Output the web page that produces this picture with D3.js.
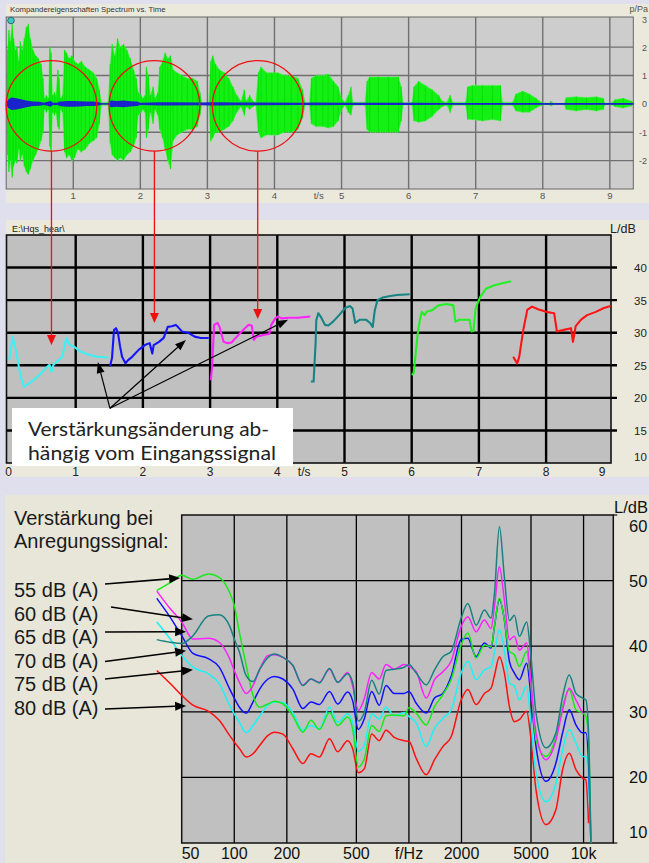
<!DOCTYPE html>
<html>
<head>
<meta charset="utf-8">
<script src="https://cdn.jsdelivr.net/npm/d3@7"></script>
<style>
  body { margin: 0; background: #dfdfee; }
  svg { display: block; }
</style>
</head>
<body>
<script>

// ---- top panel: waveform envelope [t/s, upper p/Pa, lower p/Pa]
const waveform = [
  [0.00, 0, 0], [0.02, 1.9, -1.8], [0.04, 2.6, -2.4], [0.06, 2.2, -2.0], [0.09, 2.8, -2.6],
  [0.11, 2.3, -2.2], [0.14, 1.9, -2.0], [0.16, 2.0, -2.1], [0.19, 1.5, -1.6], [0.21, 2.2, -2.0],
  [0.24, 1.9, -1.8], [0.27, 2.3, -2.2], [0.30, 2.7, -2.4], [0.33, 2.8, -2.5], [0.36, 2.3, -2.3],
  [0.40, 1.9, -2.0], [0.44, 1.7, -1.8], [0.48, 1.6, -1.6], [0.52, 1.4, -1.3], [0.55, 0.9, -1.0],
  [0.57, 0.2, -0.2], [0.60, 0.3, -0.3], [0.63, 0.2, -0.2], [0.65, 2.0, -1.5], [0.67, 1.8, -1.7],
  [0.69, 0.3, -0.3], [0.72, 0.4, -0.4], [0.74, 0.3, -0.3], [0.77, 1.2, -0.8], [0.79, 0.9, -0.9],
  [0.81, 0.2, -0.2], [0.84, 0.3, -0.3], [0.87, 1.9, -1.7], [0.90, 1.8, -1.9], [0.94, 1.6, -1.8],
  [0.98, 1.7, -2.0], [1.02, 1.5, -1.9], [1.07, 1.4, -1.6], [1.12, 1.5, -1.7], [1.18, 1.3, -1.6],
  [1.24, 1.2, -1.4], [1.30, 1.1, -1.3], [1.35, 0.9, -1.2], [1.39, 0.5, -0.7], [1.42, 0.05, -0.05],
  [1.52, 0.05, -0.05], [1.55, 1.4, -1.4], [1.58, 2.1, -1.8], [1.62, 1.7, -1.9], [1.66, 2.3, -2.0],
  [1.70, 2.0, -1.9], [1.75, 2.1, -2.0], [1.80, 1.9, -1.8], [1.85, 1.6, -1.7], [1.90, 1.2, -1.5],
  [1.94, 0.9, -1.2], [1.97, 0.4, -0.4], [2.01, 0.3, -0.3], [2.04, 0.2, -0.2], [2.07, 0.3, -0.3],
  [2.09, 1.3, -1.2], [2.12, 1.0, -0.9], [2.15, 0.3, -0.3], [2.19, 0.6, -0.7], [2.22, 0.2, -0.2],
  [2.26, 0.4, -0.4], [2.29, 1.3, -0.9], [2.33, 1.5, -1.2], [2.37, 1.8, -1.6], [2.41, 1.6, -2.0],
  [2.45, 1.7, -2.3], [2.49, 1.2, -1.3], [2.55, 1.1, -1.1], [2.62, 1.0, -1.0], [2.70, 0.9, -0.9],
  [2.78, 0.9, -0.9], [2.85, 0.8, -0.8], [2.89, 0.4, -0.4], [2.92, 0.02, -0.02], [3.02, 0.02, -0.02],
  [3.05, 1.5, -1.3], [3.08, 1.7, -1.2], [3.12, 1.4, -1.0], [3.18, 1.2, -1.0], [3.25, 1.1, -0.9],
  [3.32, 0.9, -0.8], [3.38, 0.6, -0.6], [3.44, 0.3, -0.3], [3.50, 0.1, -0.1], [3.55, 0.5, -0.4],
  [3.58, 0.1, -0.1], [3.63, 0.3, -0.2], [3.68, 0.1, -0.1], [3.72, 0.05, -0.05], [3.76, 1.1, -1.0],
  [3.80, 1.3, -1.2], [3.88, 1.1, -1.1], [3.96, 1.1, -1.1], [4.05, 1.1, -1.1], [4.15, 1.0, -1.0],
  [4.25, 1.0, -1.0], [4.35, 0.9, -0.9], [4.42, 0.5, -0.5], [4.46, 0.02, -0.02], [4.52, 0.02, -0.02],
  [4.55, 0.9, -0.7], [4.62, 1.0, -0.8], [4.72, 1.0, -0.8], [4.80, 1.05, -0.85], [4.88, 0.8, -0.8],
  [4.95, 0.6, -0.6], [5.00, 0.2, -0.2], [5.05, 0.05, -0.05], [5.10, 0.3, -0.3], [5.14, 0.6, -0.4],
  [5.17, 0.05, -0.05], [5.35, 0.05, -0.05], [5.38, 0.8, -0.9], [5.42, 0.95, -1.0], [5.55, 0.95, -1.0],
  [5.70, 0.95, -1.0], [5.85, 0.95, -1.0], [5.89, 0.6, -0.6], [5.92, 0.02, -0.02], [6.05, 0.05, -0.05],
  [6.08, 0.6, -0.6], [6.15, 0.8, -0.65], [6.25, 0.65, -0.6], [6.35, 0.5, -0.45], [6.45, 0.3, -0.2],
  [6.50, 0.1, -0.1], [6.57, 0.05, -0.05], [6.62, 0.3, -0.3], [6.66, 0.05, -0.05], [6.85, 0.05, -0.05],
  [6.88, 0.6, -0.55], [6.95, 0.65, -0.55], [7.10, 0.65, -0.6], [7.25, 0.65, -0.55], [7.37, 0.65, -0.6],
  [7.40, 0.05, -0.05], [7.55, 0.05, -0.05], [7.60, 0.35, -0.25], [7.70, 0.45, -0.3], [7.80, 0.35, -0.3],
  [7.90, 0.2, -0.15], [7.98, 0.05, -0.05], [8.10, 0.02, -0.02], [8.12, 0.1, -0.08], [8.16, 0.02, -0.02],
  [8.32, 0.02, -0.02], [8.35, 0.22, -0.2], [8.50, 0.25, -0.25], [8.65, 0.22, -0.2], [8.80, 0.25, -0.25],
  [8.90, 0.2, -0.2], [8.93, 0.02, -0.02], [9.02, 0.02, -0.02], [9.08, 0.15, -0.1], [9.20, 0.2, -0.15],
  [9.32, 0.1, -0.08], [9.36, 0.02, -0.02]
];
// compressed (blue) signal, half width in Pa
const compT = [0, 0.03, 0.08, 0.15, 0.22, 0.3, 0.4, 0.5, 0.56, 0.62, 0.66, 0.7, 0.76, 0.8, 0.86, 0.92, 1.0, 1.1, 1.2, 1.3,
               1.38, 1.42, 1.52, 1.56, 1.65, 1.75, 1.85, 1.95, 2.0, 2.3, 2.5, 2.9, 3.05, 3.2, 3.4, 3.8, 4.4, 4.6, 5.0, 5.4,
               5.9, 6.1, 6.5, 9.36];
const compA = [0.02, 0.15, 0.22, 0.2, 0.16, 0.12, 0.08, 0.07, 0.04, 0.07, 0.1, 0.04, 0.04, 0.08, 0.09, 0.1, 0.1, 0.09, 0.08, 0.08,
               0.06, 0.02, 0.02, 0.12, 0.1, 0.12, 0.09, 0.08, 0.04, 0.06, 0.06, 0.05, 0.06, 0.06, 0.05, 0.05, 0.04, 0.05, 0.04, 0.04,
               0.04, 0.04, 0.03, 0.03];
const pTicks = [3, 2, 1, 0, -1, -2];
const tTicks = [1, 2, 3, 4, 5, 6, 7, 8, 9];

// ---- middle panel: gain over time, one segment per colour
const cyanT  = [0.01, 0.06, 0.12, 0.18, 0.23, 0.27, 0.37, 0.49, 0.58, 0.61, 0.64, 0.67, 0.80, 0.86, 0.91, 0.97, 1.07, 1.20, 1.32, 1.49];
const cyanDb = [25.8, 29.4, 26.8, 23.3, 21.7, 22.0, 22.7, 23.8, 24.8, 25.1, 24.0, 25.1, 26.3, 29.2, 28.1, 27.9, 27.1, 26.6, 26.3, 26.2];
const blueT  = [1.51, 1.54, 1.57, 1.60, 1.63, 1.66, 1.69, 1.74, 1.78, 1.84, 1.94, 2.03, 2.10, 2.14, 2.16, 2.24, 2.31, 2.37, 2.43, 2.49, 2.52, 2.58, 2.67, 2.77, 2.86, 2.98];
const blueDb = [24.8, 26.1, 30.4, 30.7, 29.9, 27.9, 26.3, 25.3, 25.8, 26.3, 27.4, 28.1, 28.4, 26.8, 28.1, 28.6, 29.2, 30.9, 31.0, 31.2, 30.9, 30.2, 30.0, 29.4, 29.2, 29.2];
const magT   = [3.01, 3.03, 3.06, 3.11, 3.14, 3.20, 3.26, 3.32, 3.38, 3.47, 3.57, 3.62, 3.65, 3.69, 3.81, 3.88, 3.91, 3.97, 4.01, 4.06, 4.18, 4.31, 4.49];
const magDb  = [22.7, 24.8, 31.2, 31.5, 30.9, 28.6, 28.4, 28.5, 29.2, 30.2, 31.2, 31.1, 28.9, 29.4, 29.7, 29.8, 31.2, 32.2, 32.5, 32.2, 32.3, 32.3, 32.5];
const tealT  = [4.50, 4.54, 4.57, 4.58, 4.61, 4.65, 4.71, 4.76, 4.83, 4.92, 5.01, 5.08, 5.12, 5.16, 5.23, 5.32, 5.38, 5.42, 5.45, 5.49, 5.57, 5.66, 5.78, 5.97];
const tealDb = [22.5, 22.5, 28.4, 31.9, 33.0, 32.4, 31.2, 31.1, 31.7, 32.7, 33.8, 34.1, 33.7, 31.5, 32.0, 32.0, 31.5, 30.9, 33.4, 35.0, 35.4, 35.6, 35.8, 35.9];
const greenT  = [6.00, 6.03, 6.09, 6.12, 6.15, 6.19, 6.22, 6.31, 6.40, 6.52, 6.62, 6.65, 6.71, 6.86, 6.89, 6.92, 6.95, 7.02, 7.11, 7.23, 7.35, 7.48];
const greenDb = [23.5, 23.8, 29.9, 31.9, 33.2, 32.7, 33.2, 33.5, 34.2, 34.4, 34.2, 31.7, 32.0, 32.0, 30.2, 30.3, 33.7, 35.5, 36.8, 37.3, 37.6, 37.9];
const redT   = [7.51, 7.54, 7.57, 7.60, 7.66, 7.72, 7.79, 7.88, 8.00, 8.12, 8.16, 8.25, 8.37, 8.40, 8.44, 8.52, 8.61, 8.74, 8.86, 8.96];
const redDb  = [26.3, 25.8, 25.3, 26.3, 30.4, 33.5, 34.0, 33.6, 33.2, 33.0, 30.2, 30.4, 30.7, 28.6, 31.0, 32.0, 32.7, 33.2, 33.8, 34.1];
const gainTicks = [10, 15, 20, 25, 30, 35, 40];
const gainTimeTicks = [0, 1, 2, 3, 4, 5, 6, 7, 8, 9];

// ---- bottom panel: gain vs frequency for six input levels
const freqs = [36, 43, 50, 58, 71, 82, 94, 100, 107, 117, 128, 140, 156, 170, 190,
               216, 247, 275, 307, 351, 391, 446, 476, 513, 555, 612, 676, 739, 824, 940,
               1000, 1101, 1256, 1402, 1564, 1745, 1991, 2174, 2425, 2706, 2954, 3087, 3297, 3521, 3761,
               4017, 4290, 4724, 4979, 5342, 6092, 6948, 7586, 8282, 9042, 9870, 10312, 10680, 11014];
const gain55 = [48.5, 49.7, 50.8, 50.2, 51.0, 50.5, 48.2, 46.2, 42.1, 37.1, 32.5, 30.7, 31.2, 31.6, 31.2,
                29.4, 26.9, 28.7, 27.3, 29.9, 27.9, 29.2, 27.4, 21.6, 22.8, 27.9, 27.0, 29.4, 29.5, 29.4,
                30.6, 29.8, 28.0, 30.8, 32.6, 34.9, 40.2, 42.0, 38.2, 40.2, 39.9, 43.0, 47.3, 44.0, 39.2,
                38.7, 36.9, 39.2, 34.4, 25.7, 23.2, 26.2, 30.8, 33.4, 30.3, 29.8, 29.3, 25.7, 10];
const gain60 = [41.0, 40.6, 40.4, 41.6, 44.6, 44.8, 43.1, 41.1, 39.1, 35.5, 34.6, 36.5, 38.3, 38.8, 38.3,
                37.1, 34.0, 35.0, 34.4, 36.6, 34.5, 35.8, 34.5, 28.6, 29.9, 34.8, 32.7, 36.3, 36.5, 36.8,
                37.2, 35.9, 34.1, 36.4, 38.4, 39.2, 44.3, 46.5, 43.2, 45.5, 44.3, 48.0, 58.2, 50.5, 43.9,
                44.7, 41.5, 43.7, 38.9, 29.8, 24.5, 26.8, 32.3, 35.6, 32.8, 32.1, 31.8, 26.8, 10];
const gain65 = [48.4, 45.7, 43.7, 41.1, 41.2, 40.6, 38.1, 36.3, 34.5, 32.8, 34.0, 36.5, 38.6, 38.7, 38.3,
                37.1, 34.1, 35.0, 34.5, 36.5, 34.5, 36.0, 34.0, 30.2, 32.0, 36.0, 35.0, 37.2, 36.5, 37.2,
                36.9, 36.1, 32.1, 34.9, 36.1, 37.7, 43.0, 44.5, 42.2, 44.0, 42.7, 46.0, 52.1, 47.0, 41.0,
                41.5, 39.4, 40.5, 34.9, 26.8, 22.7, 25.7, 30.3, 33.6, 31.8, 29.8, null, null, null];
const gain70 = [47.3, 44.4, 41.6, 38.9, 38.1, 36.8, 33.5, 32.1, 30.7, 29.8, 31.5, 33.5, 35.0, 35.4, 35.0,
                33.5, 30.5, 31.5, 31.1, 33.1, 31.2, 33.0, 31.7, 27.3, 28.9, 33.1, 31.0, 34.0, 32.8, 32.8,
                33.1, 31.3, 29.8, 32.1, 32.8, 35.4, 41.0, 41.2, 38.4, 40.5, 39.7, 43.0, 47.1, 44.0, 37.7,
                35.9, 34.9, 37.4, 32.8, 24.7, 19.4, 22.2, 26.8, 30.3, 28.0, 26.8, 26.8, 22.2, 10];
const gain75 = [43.7, 41.1, 38.6, 36.8, 35.8, 34.3, 31.0, 29.7, 28.4, 26.8, 27.9, 29.4, 31.0, 31.5, 31.4,
                29.9, 27.2, 27.9, 27.4, 30.7, 28.4, 29.7, 28.4, 24.0, 24.9, 29.7, 28.9, 30.7, 29.4, 29.9,
                29.3, 28.3, 24.7, 27.5, 29.0, 30.3, 35.9, 37.7, 34.9, 36.4, 36.9, 39.0, 42.5, 39.4, 34.4,
                33.9, 31.8, 33.9, 28.8, 20.7, 16.3, 19.1, 24.2, 27.3, 25.2, 23.2, 23.2, 19.6, 10];
const gain80 = [36.3, 34.3, 32.5, 31.0, 30.1, 28.7, 26.4, 25.4, 24.4, 23.1, 23.6, 24.9, 26.4, 26.9, 26.6,
                24.4, 22.1, 23.6, 23.1, 25.9, 23.9, 25.6, 24.4, 20.7, 21.3, 26.6, 25.6, 27.2, 26.1, 25.6,
                25.5, 22.9, 20.4, 22.7, 24.7, 26.2, 31.8, 33.4, 31.1, 32.8, 33.6, 35.5, 38.4, 35.9, 30.8,
                28.5, 28.8, 30.1, 26.2, 18.1, 12.8, 15.1, 21.2, 23.7, 21.2, 19.9, 19.6, 13.0, null];
const levelLabels = ["55 dB (A)", "60 dB (A)", "65 dB (A)", "70 dB (A)", "75 dB (A)", "80 dB (A)"];
const freqTicks = [50, 100, 200, 500, 1000, 2000, 5000, 10000];
const freqTickLabels = ["50", "100", "200", "500", "f/Hz", "2000", "5000", "10k"];
const levelTicks = [10, 20, 30, 40, 50, 60];


const W = 649, H = 863;

const svg = d3.select("body").append("svg")
    .attr("width", W)
    .attr("height", H)
    .attr("font-family", "Liberation Sans, Arial, sans-serif");

svg.append("rect").attr("width", W).attr("height", H).attr("fill", "#dfdfee");

// draws a line ending in a filled triangle
const arrow = function (g, x0, y0, x1, y1, color, headLen, headW, sw) {
    const a = Math.atan2(y1 - y0, x1 - x0);
    const bx = x1 - headLen * Math.cos(a), by = y1 - headLen * Math.sin(a);
    const px = -Math.sin(a) * headW / 2, py = Math.cos(a) * headW / 2;
    g.append("line")
        .attr("x1", x0).attr("y1", y0)
        .attr("x2", bx).attr("y2", by)
        .attr("stroke", color)
        .attr("stroke-width", sw);
    g.append("path")
        .attr("d", "M" + x1 + "," + y1 + "L" + (bx + px) + "," + (by + py) + "L" + (bx - px) + "," + (by - py) + "Z")
        .attr("fill", color);
};


// ================= top panel =================
const wavePanel = svg.append("g");
wavePanel.append("rect").attr("x", 6).attr("y", 4).attr("width", W - 6).attr("height", 199).attr("fill", "#ebe9dc");

const xWave = d3.scaleLinear().domain([0, 9.35]).range([6.2, 633.3]);
const yWave = d3.scaleLinear().domain([-3, 3.06]).range([189, 17]);

wavePanel.append("rect")
    .attr("x", xWave(0)).attr("y", yWave(3.06))
    .attr("width", xWave(9.35) - xWave(0)).attr("height", yWave(-3) - yWave(3.06))
    .attr("fill", "#cdcdcd");

wavePanel.selectAll("line.hgrid")
    .data(pTicks.filter(function (d) { return d < 3; }))
    .enter().append("line")
        .attr("x1", xWave(0)).attr("x2", xWave(9.35))
        .attr("y1", function (d) { return yWave(d); })
        .attr("y2", function (d) { return yWave(d); })
        .attr("stroke", "#707070").attr("stroke-width", 1.4);

wavePanel.selectAll("line.vgrid")
    .data(tTicks)
    .enter().append("line")
        .attr("x1", function (d) { return xWave(d); })
        .attr("x2", function (d) { return xWave(d); })
        .attr("y1", yWave(3.06)).attr("y2", yWave(-3))
        .attr("stroke", "#707070").attr("stroke-width", 1.4);

const waveArea = d3.area()
    .x(function (d) { return xWave(d[0]); })
    .y0(function (d) { return yWave(d[2]); })
    .y1(function (d) { return yWave(d[1]); });

wavePanel.append("path").datum(waveform)
    .attr("d", waveArea)
    .attr("fill", "#14f014")
    .attr("stroke", "#50f550").attr("stroke-width", 1.2)
    .attr("stroke-dasharray", "1,1.5");

// vertical strokes through each envelope sample, to keep the burst texture
wavePanel.selectAll("line.burst")
    .data(waveform)
    .enter().append("line")
        .attr("x1", function (d) { return xWave(d[0]); })
        .attr("x2", function (d) { return xWave(d[0]); })
        .attr("y1", function (d) { return yWave(d[1]); })
        .attr("y2", function (d) { return yWave(d[2]); })
        .attr("stroke", "#00e000").attr("stroke-width", 0.8);

wavePanel.append("line")
    .attr("x1", xWave(0)).attr("x2", xWave(9.36))
    .attr("y1", yWave(0)).attr("y2", yWave(0))
    .attr("stroke", "#2a7a70").attr("stroke-width", 1.2);

const compArea = d3.area()
    .x(function (d, i) { return xWave(compT[i]); })
    .y0(function (d) { return yWave(-d); })
    .y1(function (d) { return yWave(d); });

wavePanel.append("path").datum(compA)
    .attr("d", compArea)
    .attr("fill", "#1a22cc");

wavePanel.append("rect")
    .attr("x", xWave(0)).attr("y", yWave(3.06))
    .attr("width", xWave(9.35) - xWave(0)).attr("height", yWave(-3) - yWave(3.06))
    .attr("fill", "none").attr("stroke", "#666").attr("stroke-width", 1);

wavePanel.append("circle").attr("cx", 11).attr("cy", 20.5).attr("r", 3.3)
    .attr("fill", "#3fc4c0").attr("stroke", "#2a6a70").attr("stroke-width", 1);

wavePanel.append("text").attr("x", 10).attr("y", 12)
    .attr("font-size", 7.8).attr("fill", "#333")
    .text("Kompandereigenschaften Spectrum vs. Time");
wavePanel.append("text").attr("x", 648).attr("y", 12)
    .attr("text-anchor", "end")
    .attr("font-size", 9).attr("fill", "#555")
    .text("p/Pa");

wavePanel.selectAll("text.ylab")
    .data(pTicks)
    .enter().append("text")
        .attr("x", 647)
        .attr("y", function (d) { return Math.max(yWave(d) + 3.5, 23); })
        .attr("text-anchor", "end")
        .attr("font-size", 9).attr("fill", "#555")
        .text(function (d) { return d; });

wavePanel.selectAll("text.xlab")
    .data(tTicks)
    .enter().append("text")
        .attr("x", function (d) { return xWave(d); })
        .attr("y", 199)
        .attr("text-anchor", "middle")
        .attr("font-size", 9.5).attr("fill", "#555")
        .text(function (d) { return d; });
wavePanel.append("text").attr("x", xWave(4.66)).attr("y", 199)
    .attr("text-anchor", "middle").attr("font-size", 9.5).attr("fill", "#555")
    .text("t/s");

// the three analysis windows
const windows = [0.675, 2.21, 3.75];
wavePanel.selectAll("circle.win")
    .data(windows)
    .enter().append("circle")
        .attr("cx", function (d) { return xWave(d); })
        .attr("cy", yWave(-0.07))
        .attr("r", 45.3)
        .attr("fill", "none")
        .attr("stroke", "#ee1010").attr("stroke-width", 1.3);


// ================= middle panel =================
const gainPanel = svg.append("g");
gainPanel.append("rect").attr("x", 6).attr("y", 220).attr("width", W - 6).attr("height", 257).attr("fill", "#ebe9dc");

const xGain = d3.scaleLinear().domain([0, 9]).range([8.5, 613.3]);
const yGain = d3.scaleLinear().domain([10, 45]).range([463, 235]);
const midLeft = 6.5, midRight = 611;

gainPanel.append("rect")
    .attr("x", midLeft).attr("y", yGain(45))
    .attr("width", midRight - midLeft).attr("height", yGain(10) - yGain(45))
    .attr("fill", "#c0c0c0");

gainPanel.selectAll("line.hgrid")
    .data(gainTicks.slice(1))
    .enter().append("line")
        .attr("x1", midLeft).attr("x2", midRight + 6)
        .attr("y1", function (d) { return yGain(d); })
        .attr("y2", function (d) { return yGain(d); })
        .attr("stroke", "#000").attr("stroke-width", 2.4);

gainPanel.selectAll("line.vgrid")
    .data(gainTimeTicks.slice(1, 9))
    .enter().append("line")
        .attr("x1", function (d) { return xGain(d); })
        .attr("x2", function (d) { return xGain(d); })
        .attr("y1", yGain(45)).attr("y2", yGain(10))
        .attr("stroke", "#000").attr("stroke-width", 2.4);

gainPanel.append("rect")
    .attr("x", midLeft).attr("y", yGain(45))
    .attr("width", midRight - midLeft).attr("height", yGain(10) - yGain(45))
    .attr("fill", "none").attr("stroke", "#111").attr("stroke-width", 1.6);

const gainLine = d3.line()
    .x(function (d) { return xGain(d[0]); })
    .y(function (d) { return yGain(d[1]); });

const gainSegments = [
    [cyanT, cyanDb, "#3ef0f4"],
    [blueT, blueDb, "#1414ff"],
    [magT, magDb, "#ff22ff"],
    [tealT, tealDb, "#168484"],
    [greenT, greenDb, "#22f022"],
    [redT, redDb, "#ff1414"]
];
gainSegments.forEach(function (s) {
    gainPanel.append("path")
        .datum(d3.zip(s[0], s[1]))
        .attr("d", gainLine)
        .attr("fill", "none")
        .attr("stroke", s[2])
        .attr("stroke-width", 2.1)
        .attr("stroke-linejoin", "round");
});

gainPanel.append("text").attr("x", 12).attr("y", 231.5)
    .attr("font-size", 9).attr("fill", "#222")
    .text("E:\\Hqs_hear\\");
gainPanel.append("text").attr("x", 610).attr("y", 233)
    .attr("font-size", 12.5).attr("fill", "#222")
    .text("L/dB");

gainPanel.selectAll("text.ylab")
    .data(gainTicks)
    .enter().append("text")
        .attr("x", 634)
        .attr("y", function (d) { return Math.min(yGain(d) + 4.5, 461); })
        .attr("font-size", 11.5).attr("fill", "#222")
        .text(function (d) { return d; });

gainPanel.selectAll("text.xlab")
    .data(gainTimeTicks)
    .enter().append("text")
        .attr("x", function (d) { return Math.min(xGain(d), 602); })
        .attr("y", 476)
        .attr("text-anchor", "middle")
        .attr("font-size", 12).attr("fill", "#222")
        .text(function (d) { return d; });
gainPanel.append("text").attr("x", xGain(4.4)).attr("y", 476)
    .attr("text-anchor", "middle").attr("font-size", 12).attr("fill", "#222")
    .text("t/s");

// text box with arrows
gainPanel.append("rect").attr("x", 12).attr("y", 408).attr("width", 281).attr("height", 58).attr("fill", "#fff");
gainPanel.append("text").attr("x", 28).attr("y", 435.5)
    .attr("font-family", "Lato, Liberation Sans, sans-serif")
    .attr("font-size", 20).attr("fill", "#222")
    .attr("textLength", 241).attr("lengthAdjust", "spacingAndGlyphs")
    .text("Verstärkungsänderung  ab-");
gainPanel.append("text").attr("x", 28).attr("y", 459.5)
    .attr("font-family", "Lato, Liberation Sans, sans-serif")
    .attr("font-size", 20).attr("fill", "#222")
    .attr("textLength", 248).attr("lengthAdjust", "spacingAndGlyphs")
    .text("hängig vom Eingangssignal");

const pointerTips = [[1.33, 25.5], [2.64, 28.9], [4.16, 32.0]];
pointerTips.forEach(function (p) {
    arrow(gainPanel, xGain(1.51), yGain(18.4), xGain(p[0]), yGain(p[1]), "#000", 11, 8, 1.2);
});


// ================= bottom panel =================
const freqPanel = svg.append("g");
freqPanel.append("rect").attr("x", 5).attr("y", 495).attr("width", W - 5).attr("height", H - 495).attr("fill", "#e7e6d9");

const xFreq = d3.scaleLog().domain([50, 14800]).range([181.7, 613.3]);
const yLev = d3.scaleLinear().domain([10, 60]).range([843, 515]);

freqPanel.append("rect")
    .attr("x", xFreq(50)).attr("y", yLev(60))
    .attr("width", xFreq(14800) - xFreq(50)).attr("height", yLev(10) - yLev(60))
    .attr("fill", "#c0c0c0");

freqPanel.selectAll("line.hgrid")
    .data(levelTicks.slice(1, 5))
    .enter().append("line")
        .attr("x1", xFreq(50)).attr("x2", xFreq(14800))
        .attr("y1", function (d) { return yLev(d); })
        .attr("y2", function (d) { return yLev(d); })
        .attr("stroke", "#000").attr("stroke-width", 1.3);

freqPanel.selectAll("line.vgrid")
    .data(freqTicks.slice(1))
    .enter().append("line")
        .attr("x1", function (d) { return xFreq(d); })
        .attr("x2", function (d) { return xFreq(d); })
        .attr("y1", yLev(60)).attr("y2", yLev(10))
        .attr("stroke", "#000").attr("stroke-width", 1.3);

freqPanel.append("rect")
    .attr("x", xFreq(50)).attr("y", yLev(60))
    .attr("width", xFreq(14800) - xFreq(50)).attr("height", yLev(10) - yLev(60))
    .attr("fill", "none").attr("stroke", "#111").attr("stroke-width", 1.5);

freqPanel.selectAll("line.tick")
    .data([60, 10])
    .enter().append("line")
        .attr("x1", xFreq(14800)).attr("x2", xFreq(14800) + 4)
        .attr("y1", function (d) { return yLev(d); })
        .attr("y2", function (d) { return yLev(d); })
        .attr("stroke", "#111").attr("stroke-width", 1.2);

const levelLine = d3.line()
    .defined(function (d) { return d[1] != null; })
    .curve(d3.curveMonotoneX)
    .x(function (d) { return xFreq(d[0]); })
    .y(function (d) { return yLev(d[1]); });

const levelSeries = [
    [gain80, "#ff1010"],
    [gain75, "#18f4f4"],
    [gain70, "#1010ff"],
    [gain55, "#18ea18"],
    [gain65, "#ff20ff"],
    [gain60, "#178282"]
];
levelSeries.forEach(function (s) {
    freqPanel.append("path")
        .datum(d3.zip(freqs, s[0]))
        .attr("d", levelLine)
        .attr("fill", "none")
        .attr("stroke", s[1])
        .attr("stroke-width", 1.5)
        .attr("stroke-linejoin", "round");
});

freqPanel.selectAll("text.xlab")
    .data(freqTicks)
    .enter().append("text")
        .attr("x", function (d) { return xFreq(d); })
        .attr("y", 859)
        .attr("text-anchor", function (d, i) { return i === 0 ? "start" : "middle"; })
        .attr("font-size", 16).attr("fill", "#111")
        .text(function (d, i) { return freqTickLabels[i]; });

freqPanel.selectAll("text.ylab")
    .data(levelTicks)
    .enter().append("text")
        .attr("x", 629)
        .attr("y", function (d) { return Math.max(Math.min(yLev(d) + 6, 838), 532); })
        .attr("font-size", 16.5).attr("fill", "#111")
        .text(function (d) { return d; });
freqPanel.append("text").attr("x", 648).attr("y", 513)
    .attr("text-anchor", "end")
    .attr("font-size", 16.5).attr("fill", "#111")
    .text("L/dB");

freqPanel.append("text").attr("x", 14).attr("y", 525)
    .attr("font-size", 20).attr("fill", "#1a1a1a")
    .text("Verstärkung bei");
freqPanel.append("text").attr("x", 14).attr("y", 548)
    .attr("font-size", 20).attr("fill", "#1a1a1a")
    .text("Anregungssignal:");

freqPanel.selectAll("text.level")
    .data(levelLabels)
    .enter().append("text")
        .attr("x", 14)
        .attr("y", function (d, i) { return 597.3 + i * 23.5; })
        .attr("font-size", 20).attr("fill", "#1a1a1a")
        .text(function (d) { return d; });

// legend pointers: start (px) and tip (f, dB)
const legendPointers = [
    [105, 584, 49, 50.4],
    [111, 607, 58, 44.1],
    [105, 632, 53, 42.2],
    [105, 661.5, 53, 39.3],
    [105, 679, 58, 36.4],
    [105, 709, 53, 30.9]
];
legendPointers.forEach(function (p) {
    arrow(freqPanel, p[0], p[1], xFreq(p[2]), yLev(p[3]), "#000", 11, 9, 1.6);
});


// ================= red pointers from top to middle =================
const redTips = [28.1, 31.5, 32.1];
windows.forEach(function (t, i) {
    const x = xWave(t);
    arrow(svg, x, yWave(-0.07) + 45.3, x, yGain(redTips[i]), "#ee1010", 10, 9, 1.3);
});

</script>
</body>
</html>
